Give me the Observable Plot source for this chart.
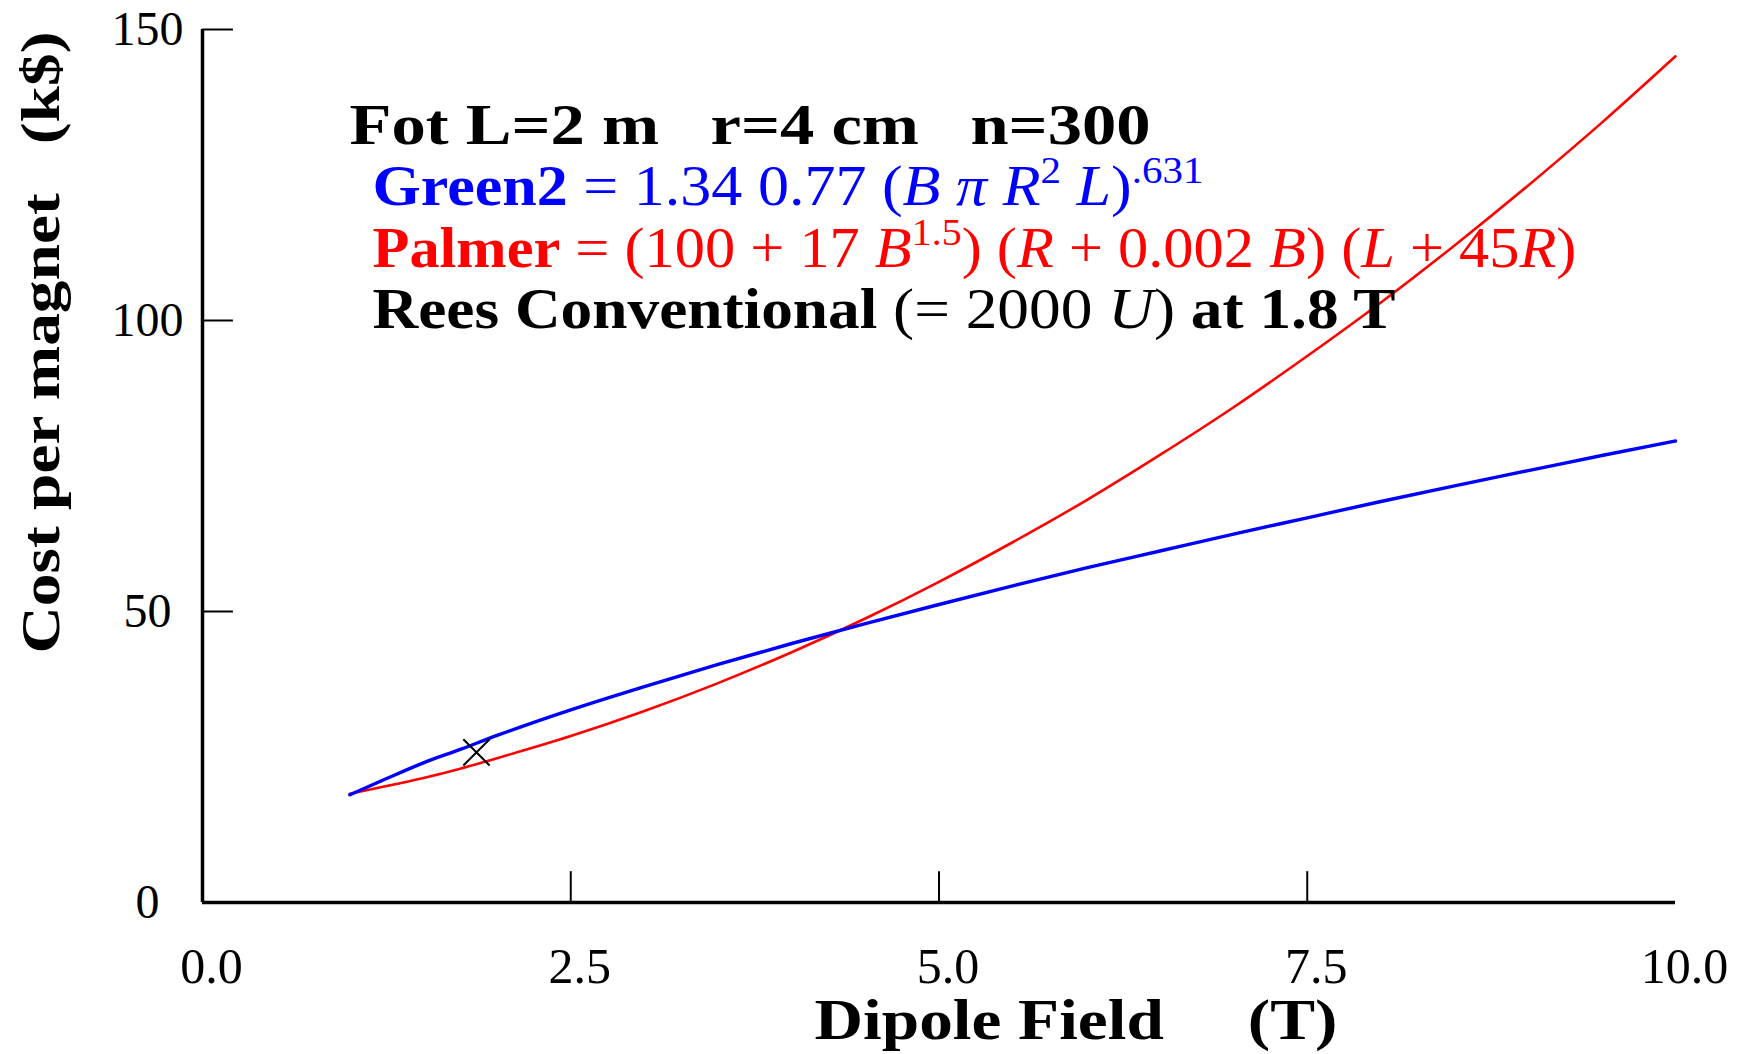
<!DOCTYPE html>
<html><head><meta charset="utf-8">
<script src="https://cdn.jsdelivr.net/npm/d3@7"></script>
<script src="https://cdn.jsdelivr.net/npm/@observablehq/plot@0.6"></script>
<style>body{margin:0;background:#fff} svg{display:block}</style>
</head><body><div id="chart"></div>
<script>
// ---- data ----
const fieldB = [1, 1.25, 1.5, 1.75, 2, 2.5, 3, 3.5, 4, 4.5, 5, 5.5, 6, 6.5, 7, 7.5, 8, 8.5, 9, 9.5, 10];
const green2Cost = [18.5, 21.3, 24.0, 26.3, 28.7, 33.1, 37.1, 40.9, 44.5, 47.9, 51.2, 54.4, 57.5, 60.4, 63.3, 66.1, 68.9, 71.6, 74.2, 76.8, 79.3];
const palmerCost = [18.7, 20.0, 21.4, 23.0, 24.8, 28.6, 32.9, 37.7, 43.0, 48.8, 55.1, 61.9, 69.1, 76.9, 85.1, 93.9, 103.1, 112.9, 123.2, 134.0, 145.4];
const reesB = [1.86];
const reesCost = [25.8];
const xTickValues = [2.5, 5, 7.5];
const xTickLabels = [0, 2.5, 5, 7.5, 10];
const yTickValues = [50, 100, 150];
const yTickLabels = [0, 50, 100, 150];
const xTitle = "Dipole Field\u00a0\u00a0\u00a0\u00a0\u00a0(T)";
const yTitle = "Cost per magnet\u00a0\u00a0\u00a0(k$)";
const noteLine1 = [{t: "Fot L=2 m\u00a0\u00a0\u00a0r=4 cm\u00a0\u00a0\u00a0n=300", b: true}];
const noteLine2 = [{t: "Green2", b: true}, {t: " = 1.34 0.77 ("}, {t: "B", i: true}, {t: " "}, {t: "π", i: true}, {t: " "}, {t: "R", i: true}, {t: "2", sup: true}, {t: " "}, {t: "L", i: true}, {t: ")"}, {t: ".631", sup: true}];
const noteLine3 = [{t: "Palmer", b: true}, {t: " = (100 + 17 "}, {t: "B", i: true}, {t: "1.5", sup: true}, {t: ") ("}, {t: "R", i: true}, {t: " + 0.002 "}, {t: "B", i: true}, {t: ") ("}, {t: "L", i: true}, {t: " + 45"}, {t: "R", i: true}, {t: ")"}];
const noteLine4 = [{t: "Rees Conventional", b: true}, {t: " (= 2000 "}, {t: "U", i: true}, {t: ") "}, {t: "at 1.8 T", b: true}];

// ---- styles / layout ----
const serif = "'Liberation Serif', 'DejaVu Serif', serif";
const notes = [
  {segs: noteLine1, color: "black", dx: 147, dy: 114, width: 801},
  {segs: noteLine2, color: "#0000ff", dx: 170, dy: 175, width: 831},
  {segs: noteLine3, color: "#ff0000", dx: 170, dy: 237, width: 1204},
  {segs: noteLine4, color: "black", dx: 170, dy: 298, width: 1023}
];
const plain = segs => segs.map(s => s.t).join("");

const green = fieldB.map((B, i) => ({B, cost: green2Cost[i]}));
const palmer = fieldB.map((B, i) => ({B, cost: palmerCost[i]}));
const rees = reesB.map((B, i) => ({B, cost: reesCost[i]}));

const plot = Plot.plot({
  width: 1750, height: 1054,
  marginLeft: 202, marginRight: 75, marginTop: 29, marginBottom: 152,
  x: {domain: [0, 10], axis: null},
  y: {domain: [0, 150], axis: null},
  style: {fontFamily: serif, background: "white", color: "black"},
  marks: [
    Plot.ruleX(xTickValues, {x: d => d, y1: 0, y2: 5.3, stroke: "black", strokeWidth: 2}),
    Plot.ruleY(yTickValues, {y: d => d, x1: 0, x2: 0.21, stroke: "black", strokeWidth: 2}),
    Plot.ruleX([0], {stroke: "black", strokeWidth: 3.5}),
    Plot.ruleY([0], {stroke: "black", strokeWidth: 3.5}),
    Plot.line(palmer, {x: "B", y: "cost", stroke: "#ff0000", strokeWidth: 2.6, curve: "monotone-x"}),
    Plot.line(green, {x: "B", y: "cost", stroke: "#0000ff", strokeWidth: 3.4, curve: "monotone-x"}),
    Plot.dot(rees, {x: "B", y: "cost", symbol: "times", r: 12, stroke: "black", strokeWidth: 2}),
    Plot.text(xTickLabels, {x: d => d, text: d => d.toFixed(1), frameAnchor: "bottom", lineAnchor: "bottom", dx: 9, dy: 80, fontSize: 50, fill: "black"}),
    Plot.text(yTickLabels, {y: d => d, text: d => String(d), frameAnchor: "left", textAnchor: "middle", dx: -55, fontSize: 48, fill: "black"}),
    Plot.text([xTitle], {text: d => d, frameAnchor: "bottom", textAnchor: "middle", lineAnchor: "bottom", dx: 137, dy: 136, fontSize: 56, fontWeight: "bold", fill: "black"}),
    Plot.text([yTitle], {text: d => d, frameAnchor: "left", textAnchor: "middle", rotate: -90, lineAnchor: "bottom", dx: -144, dy: -123.5, fontSize: 54, fontWeight: "bold", fill: "black"}),
    ...notes.map(n => Plot.text([n.segs], {text: d => plain(d), frameAnchor: "top-left", textAnchor: "start", lineAnchor: "bottom", dx: n.dx, dy: n.dy, fontSize: 56, fill: n.color}))
  ]
});

// rich text (bold / italic / superscripts) and widths
const NS = "http://www.w3.org/2000/svg";
const noteByText = new Map(notes.map(n => [plain(n.segs), n]));
d3.select(plot).selectAll("text").each(function () {
  const key = this.textContent;
  if (key === xTitle) { this.setAttribute("textLength", 523); this.setAttribute("lengthAdjust", "spacingAndGlyphs"); return; }
  if (key === yTitle) { this.setAttribute("textLength", 622); this.setAttribute("lengthAdjust", "spacingAndGlyphs"); return; }
  const n = noteByText.get(key);
  if (!n) return;
  this.textContent = "";
  this.style.whiteSpace = "pre";
  let shifted = false;
  for (const s of n.segs) {
    const ts = document.createElementNS(NS, "tspan");
    ts.textContent = s.t;
    ts.setAttribute("font-weight", s.b ? "bold" : "normal");
    if (s.i) ts.setAttribute("font-style", "italic");
    if (s.sup) {
      ts.setAttribute("font-size", 37);
      if (!shifted) { ts.setAttribute("dy", -22); shifted = true; }
    } else if (shifted) { ts.setAttribute("dy", 22); shifted = false; }
    this.appendChild(ts);
  }
  this.setAttribute("textLength", n.width);
  this.setAttribute("lengthAdjust", "spacingAndGlyphs");
});

document.getElementById("chart").appendChild(plot);
</script>
</body></html>
